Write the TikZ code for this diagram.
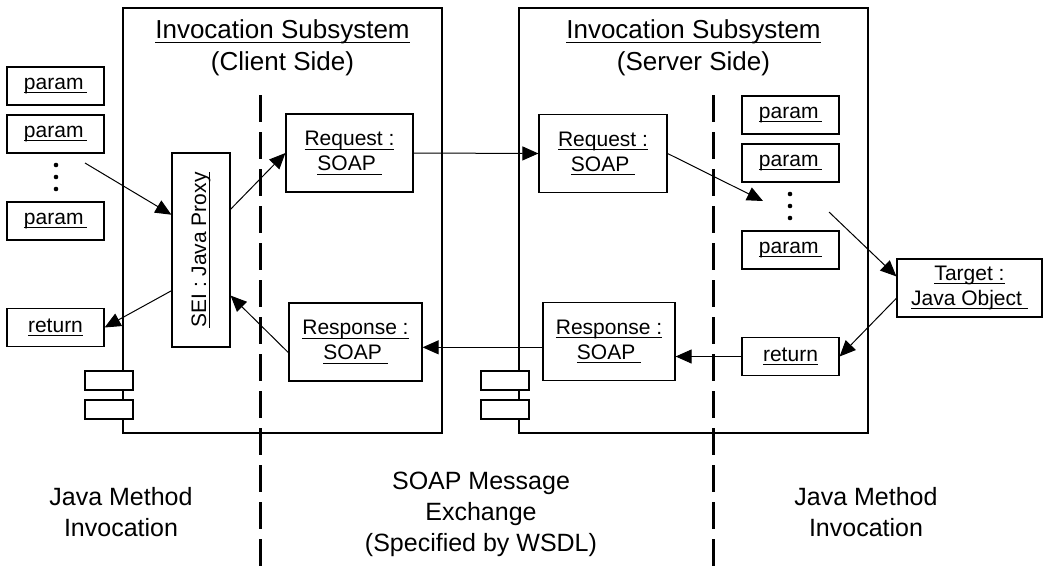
\documentclass[tikz,border=0pt]{standalone}
\usepackage{fontspec}
\setmainfont{Liberation Sans}
\usepackage{graphicx}
\usetikzlibrary{arrows.meta}
\newcommand{\objname}[1]{\setbox0=\hbox{#1}\leavevmode\rlap{\rule[-0.17em]{\wd0}{0.9pt}}\box0}

\begin{document}
\begin{tikzpicture}[x=1pt,y=-1pt,>={Triangle[length=16pt,width=14pt]}]
	\tikzstyle{obj} = [draw,line width=1.2pt,align=center,inner sep=0pt,font=\fontsize{21}{25}\selectfont];
	\tikzstyle{parbox} = [obj,minimum width=97,minimum height=38];
	\tikzstyle{soapbox} = [obj,minimum height=78];
	\tikzstyle{port} = [draw,fill=white,line width=1.2pt,minimum width=48,minimum height=19,inner sep=0pt];
	\tikzstyle{subsys} = [draw,line width=1.2pt,inner sep=0pt];
	\tikzstyle{title} = [align=center,font=\fontsize{26}{32}\selectfont];
	\tikzstyle{note} = [align=center,font=\fontsize{25}{31}\selectfont];
	\tikzstyle{divider} = [line width=3pt,dash pattern=on 27pt off 10pt];
	\useasboundingbox (0,0) rectangle (1044,570);
	% subsystems
	\node[subsys,minimum width=319,minimum height=425] (client) at (282.5,220.5) {};
	\node[subsys,minimum width=349,minimum height=425] (server) at (693.5,220.5) {};
	\node[title] (ctitle) at (282.5,48) {\objname{Invocation Subsystem}\\(Client Side)};
	\node[title] (stitle) at (693.5,48) {\objname{Invocation Subsystem}\\(Server Side)};
	\draw[divider] (260,95) -- (260,570);
	\draw[divider] (713,95) -- (713,570);
	\node[port] (cport1) at (109,380.5) {};
	\node[port] (cport2) at (109,409.5) {};
	\node[port] (sport1) at (505,380.5) {};
	\node[port] (sport2) at (505,409.5) {};
	% client side
	\node[parbox] (lpar1) at (55.5,86) {\objname{param\,}};
	\node[parbox] (lpar2) at (55.5,134) {\objname{param\,}};
	\node[parbox] (lpar3) at (55.5,221) {\objname{param\,}};
	\node[parbox] (lret) at (55.5,327.5) {\objname{return}};
	\foreach \y in {165,177,189} \fill (56,\y) circle (2.3pt);
	\node[obj,minimum width=58,minimum height=194] (sei) at (201,250) {\rotatebox{90}{\objname{SEI : Java Proxy}}};
	\node[soapbox,minimum width=127] (creq) at (349.5,153) {\objname{Request :}\\\objname{SOAP\ }};
	\node[soapbox,minimum width=133] (cresp) at (355.5,342) {\objname{Response :}\\\objname{SOAP\ }};
	% server side
	\node[soapbox,minimum width=128] (sreq) at (603,153.5) {\objname{Request :}\\\objname{SOAP\ }};
	\node[soapbox,minimum width=132] (sresp) at (609,341.5) {\objname{Response :}\\\objname{SOAP\ }};
	\node[parbox] (spar1) at (790.5,115) {\objname{param\,}};
	\node[parbox] (spar2) at (790.5,163) {\objname{param\,}};
	\node[parbox] (spar3) at (790.5,250) {\objname{param\,}};
	\node[parbox] (sret) at (790.5,356.5) {\objname{return}};
	\foreach \y in {194,206,218} \fill (790,\y) circle (2.3pt);
	\node[obj,minimum width=145,minimum height=58] (target) at (969.5,288) {\objname{Target :}\\\objname{Java Object\ }};
	% messages
	\coordinate (ldots) at (85,163);
	\coordinate (sdotsin) at (763,201);
	\coordinate (sdotsout) at (829,212);
	\draw[->,line width=1pt] (ldots) -- (sei.130);
	\draw[->,line width=1pt] (sei.54) -- (creq.west);
	\draw[->,line width=1pt] (creq.east) -- (sreq.west);
	\draw[->,line width=1pt] (sreq.east) -- (sdotsin);
	\draw[->,line width=1pt] (sdotsout) -- (target.171);
	\draw[->,line width=1pt] (target.188) -- (sret.east);
	\draw[->,line width=1pt] (sret.west) -- (sret.west -| sresp.east);
	\draw[->,line width=1pt] (sresp.185) -- (sresp.185 -| cresp.east);
	\draw[->,line width=1pt] (cresp.189) -- (sei.-57);
	\draw[->,line width=1pt] (sei.234) -- (lret.east);
	% layers
	\node[note] (ljava) at (121,512) {Java Method\\Invocation};
	\node[note] (soapx) at (481,514) {SOAP Message\\Exchange\\(Specified by WSDL)};
	\node[note] (rjava) at (866,512) {Java Method\\Invocation};
\end{tikzpicture}
\end{document}
